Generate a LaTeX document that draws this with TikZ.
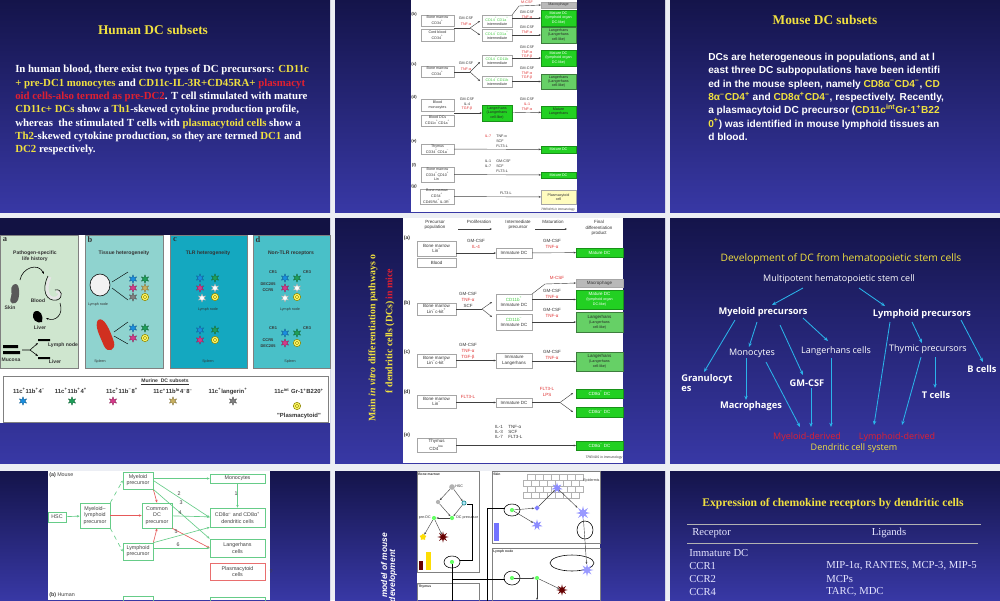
\documentclass[tikz,border=0pt]{standalone}
\usepackage{fontspec}
\setmainfont{Liberation Serif}
\newfontfamily\arial{Liberation Sans}
\newfontfamily\osans{Open Sans}
\usetikzlibrary{arrows.meta,shapes.geometric,shapes.misc}
\definecolor{navtop}{HTML}{14144A}
\definecolor{navbot}{HTML}{3838A5}
\definecolor{ylw}{HTML}{F0E040}
\definecolor{rd}{HTML}{E02030}
\definecolor{gut}{HTML}{ECEEF4}
\definecolor{cyanar}{HTML}{2AB4EA}
\definecolor{gdark}{HTML}{22D022}
\definecolor{glight}{HTML}{66D066}
\definecolor{lgreen}{HTML}{44CC44}
\definecolor{tgreen}{HTML}{66CC88}
\definecolor{figred}{HTML}{E03030}
\definecolor{pa}{HTML}{CFE6CF}
\definecolor{pb}{HTML}{8FD3CF}
\definecolor{pc}{HTML}{14A8C0}
\definecolor{pd}{HTML}{49C0C8}
\definecolor{dcb}{HTML}{1A8FE0}
\definecolor{dcg}{HTML}{1F9F5A}
\definecolor{dcm}{HTML}{D63A8A}
\definecolor{dct}{HTML}{C8B060}
\definecolor{spl}{HTML}{D03020}
\newcommand\Y[1]{\textcolor{ylw}{#1}}
\newcommand\R[1]{\textcolor{rd}{#1}}
\newcommand\up[1]{\textsuperscript{#1}}
\newcommand\pl{\textsuperscript{+}}
\newcommand\mi{\textsuperscript{–}}
\newcommand\sml{\fontsize{2.6}{3}\selectfont}
\newcommand\bx[7][]{\node[#1, minimum width={(#5-#3)*0.025cm}, minimum height={(#6-#4)*0.025cm}] (#2) at ({(#3+#5)/2},{(#4+#6)/2}) {#7};}
\newcommand\dcell[3]{\node[star,star points=6,star point ratio=2.2,fill=#3,draw=#3!60!black,line width=0.2pt,inner sep=0pt,minimum size=6pt] at (#1,#2){};}
\newcommand\ring[2]{\draw[fill=yellow!60,draw=olive,line width=0.4pt] (#1,#2) circle[radius=2.6pt]; \draw[olive,line width=0.3pt] (#1,#2) circle[radius=1.3pt];}
\tikzset{
  tile/.style={top color=navtop,bottom color=navbot},
  fb/.style={draw=gray!70,line width=0.3pt,inner sep=0pt,outer sep=0pt,align=center,font=\arial\fontsize{3.2}{3.7}\selectfont,text=black!80},
  fbs/.style={fb,font=\arial\fontsize{2.6}{3.0}\selectfont},
  gb/.style={fb,fill=gdark,draw=gdark!70!black,text=white},
  gbs/.style={fbs,fill=gdark,draw=gdark!70!black,text=white},
  lb/.style={fb,fill=glight,draw=glight!60!black,text=black!85},
  lbs/.style={fbs,fill=glight,draw=glight!60!black,text=black!85},
  lab/.style={font=\arial\fontsize{3.2}{3.7}\selectfont,inner sep=0pt,text=black!80},
  labs/.style={font=\arial\fontsize{2.6}{3.0}\selectfont,inner sep=0pt,text=black!80},
  ar/.style={-{Stealth[length=1.6pt,width=1.3pt]},line width=0.3pt,draw=gray!50!black},
  ln/.style={line width=0.3pt,draw=gray!50!black},
  car/.style={-{Stealth[length=3pt,width=2.4pt]},line width=0.6pt,draw=cyanar},
  gbox/.style={draw=tgreen,line width=0.45pt,inner sep=0pt,align=center,font=\arial\fontsize{3.8}{4.4}\selectfont,text=black!75},
  gar/.style={-{Stealth[length=2pt,width=1.7pt]},line width=0.45pt,draw=tgreen},
  rar/.style={-{Stealth[length=2pt,width=1.7pt]},line width=0.45pt,draw=figred!80},
  num/.style={font=\arial\fontsize{3.8}{4.4}\selectfont,inner sep=0pt,text=black!75},
  ptxt/.style={font=\arial\bfseries\fontsize{3.6}{4.2}\selectfont,inner sep=0pt,text=black!80,align=center},
  mtxt/.style={ptxt,font=\arial\bfseries\fontsize{4.2}{4.8}\selectfont},
}
\begin{document}
\begin{tikzpicture}[x=0.025cm,y=-0.025cm]
\useasboundingbox (0,0) rectangle (1000,600);
\fill[gut] (0,0) rectangle (1000,600);
% ---------------- tiles backgrounds
\shade[tile] (0,0) rectangle (330,212);
\shade[tile] (335,0) rectangle (665,212);
\shade[tile] (670,0) rectangle (1000,212);
\shade[tile] (0,218) rectangle (330,463);
\shade[tile] (335,218) rectangle (665,463);
\shade[tile] (670,218) rectangle (1000,463);
\shade[tile] (0,471) rectangle (330,600);
\shade[tile] (335,471) rectangle (665,600);
\shade[tile] (670,471) rectangle (1000,600);

% ---------------- Tile 1
\node[text=ylw,font=\bfseries\fontsize{9.5}{11}\selectfont] (t1) at (153,30) {Human DC subsets};
\node[anchor=north west,align=left,text=white,inner sep=0pt,font=\bfseries\fontsize{7.7}{9.45}\selectfont] (b1) at (15,65) {In human blood, there exist two types of DC precursors: \Y{CD11c}\\ \Y{+ pre-DC1 monocytes} and \Y{CD11c-IL-3R+CD45RA+} \R{plasmacyt}\\ \R{oid cells-also termed as pre-DC2}. T cell stimulated with mature\\ \Y{CD11c+ DCs} show a \Y{Th1}-skewed cytokine production profile,\\ whereas\ \ the stimulated T cells with \Y{plasmacytoid cells} show a\\ \Y{Th2}-skewed cytokine production, so they are termed \Y{DC1} and\\ \Y{DC2} respectively.};

% ---------------- Tile 3
\node[text=ylw,font=\bfseries\fontsize{9.5}{11}\selectfont] (t3) at (825,20) {Mouse DC subsets};
\node[anchor=north west,align=left,text=white,inner sep=0pt,font=\arial\bfseries\fontsize{7.2}{9.45}\selectfont] (b3) at (708,53) {DCs are heterogeneous in populations, and at l\\ east three DC subpopulations have been identifi\\ ed in the mouse spleen, namely \Y{CD8α\mi CD4\mi}, \Y{CD}\\ \Y{8α\mi CD4\pl} and \Y{CD8α\pl CD4\mi}, respectively. Recently,\\ a plasmacytoid DC precursor (\Y{CD11c\up{int}Gr-1\pl B22}\\ \Y{0\pl}) was identified in mouse lymphoid tissues an\\ d blood.};

% ---------------- Tile 2 figure
\fill[white] (411,0) rectangle (577,212);
\node[labs,font=\arial\bfseries\fontsize{3}{3.4}\selectfont] at (414,14) {(b)};
\node[labs,font=\arial\bfseries\fontsize{3}{3.4}\selectfont] at (414,64) {(c)};
\node[labs,font=\arial\bfseries\fontsize{3}{3.4}\selectfont] at (414,97) {(d)};
\node[labs,font=\arial\bfseries\fontsize{3}{3.4}\selectfont] at (414,141) {(e)};
\node[labs,font=\arial\bfseries\fontsize{3}{3.4}\selectfont] at (414,165) {(f)};
\node[labs,font=\arial\bfseries\fontsize{3}{3.4}\selectfont] at (414,186) {(g)};
\bx[fbs,fill=gray!55]{m1}{541}{2}{576}{8}{Macrophage}
\bx[fbs]{p1}{421}{15}{454}{26}{Bone marrow\\CD34\pl}
\bx[fbs]{p2}{421}{29}{454}{41}{Cord blood\\CD34\pl}
\bx[fbs]{i1}{482}{15}{512}{27}{\textcolor{lgreen}{CD14\pl CD1a\pl}\\intermediate}
\bx[fbs]{i2}{482}{29}{512}{41}{\textcolor{lgreen}{CD14\mi CD1a\pl}\\intermediate}
\bx[gbs]{f1}{541}{10}{576}{26}{Mature DC\\(lymphoid organ\\DC-like)}
\bx[lbs]{f2}{541}{27}{576}{43}{Langerhans\\(Langerhans\\cell-like)}
\coordinate (k1) at (470,28);
\draw[ln] (p1.east |- k1) -- (k1); \draw[ar] (k1) -- (480,21); \draw[ar] (k1) -- (480,35);
\node[labs] at (466,18) {GM-CSF}; \node[labs,text=figred] at (466,24) {TNF-α};
\draw[ar] (i1.north east) -- (519,6) -- (m1.west); \node[labs,text=figred] at (527,2) {M-CSF};
\node[labs] at (527,12) {GM-CSF}; \node[labs,text=figred] at (527,17) {TNF-α};
\draw[ar] (i1.east |- f1.west) -- (f1.west);
\node[labs] at (527,27) {GM-CSF}; \node[labs,text=figred] at (527,32) {TNF-α};
\draw[ar] (i2.east |- f2.west) -- (f2.west);
% (c)
\bx[fbs]{p3}{421}{66}{454}{77}{Bone marrow\\CD34\pl}
\bx[fbs]{i3}{482}{55}{512}{66}{\textcolor{lgreen}{CD14\pl CD11b}\\intermediate}
\bx[fbs]{i4}{482}{76}{512}{87}{\textcolor{lgreen}{CD14\mi CD11b}\\intermediate}
\bx[gbs]{f3}{541}{50}{576}{66}{Mature DC\\(lymphoid organ\\DC-like)}
\bx[lbs]{f4}{541}{74}{576}{89}{Langerhans\\(Langerhans\\cell-like)}
\coordinate (k2) at (470,72);
\draw[ln] (p3.east |- k2) -- (k2); \draw[ar] (k2) -- (480,62); \draw[ar] (k2) -- (480,81);
\node[labs] at (466,63) {GM-CSF}; \node[labs,text=figred] at (466,69) {TNF-α};
\node[labs] at (527,47) {GM-CSF}; \node[labs,text=figred] at (527,52) {TNF-α}; \node[labs,text=figred] at (527,57) {TGF-β};
\draw[ar] (i3.east |- f3.west) -- (f3.west);
\node[labs] at (527,68) {GM-CSF}; \node[labs,text=figred] at (527,73) {TNF-α}; \node[labs,text=figred] at (527,78) {TGF-β};
\draw[ar] (i4.east |- f4.west) -- (f4.west);
% (d)
\bx[fbs]{p4}{421}{99}{454}{111}{Blood\\monocytes}
\bx[fbs]{p5}{421}{115}{454}{126}{Blood DCs\\CD11c\pl CD1a\pl}
\bx[gbs,text=black!85]{i5}{482}{105}{512}{121}{Langerhans\\(Langerhans\\cell-like)}
\bx[gbs,text=black!85]{f5}{541}{106}{576}{118}{Mature\\Langerhans}
\draw[ar] (p4.south east |- i5.west) -- (i5.west);
\node[labs] at (467,99) {GM-CSF}; \node[labs] at (467,104) {IL-4}; \node[labs,text=figred] at (467,109) {TGF-β};
\draw[ar] (i5) -- (f5);
\node[labs] at (527,99) {GM-CSF}; \node[labs,text=figred] at (527,104) {IL-1}; \node[labs,text=figred] at (527,109) {TNF-α};
% (e)
\bx[fbs]{p6}{421}{144}{454}{154}{Thymus\\CD34\pl CD1a\mi}
\bx[gbs]{f6}{541}{146}{576}{153}{Mature DC}
\draw[ar] (p6) -- (f6);
\node[labs,text=figred] at (488,136) {IL-7}; \node[labs,anchor=west] at (496,136) {TNF-α};
\node[labs,anchor=west] at (496,141) {SCF}; \node[labs,anchor=west] at (496,146) {FLT3-L};
% (f)
\bx[fbs]{p7}{421}{167}{454}{182}{Bone marrow\\CD34\pl CD10\pl\\Lin\mi}
\bx[gbs]{f7}{541}{172}{576}{178}{Mature DC}
\draw[ar] (p7) -- (f7);
\node[labs] at (488,161) {IL-1}; \node[labs,anchor=west] at (496,161) {GM-CSF};
\node[labs] at (488,166) {IL-7}; \node[labs,anchor=west] at (496,166) {SCF}; \node[labs,anchor=west] at (496,171) {FLT3-L};
% (g)
\bx[fbs]{p8}{420}{189}{454}{204}{Bone marrow\\CD34\pl\\CD45RA\pl IL-3R\mi}
\bx[fbs,fill=yellow!25]{f8}{541}{190}{576}{204}{Plasmacytoid\\cell}
\draw[ar] (p8) -- (f8);
\node[labs] at (506,193) {FLT3-L};
\node[labs,font=\arial\itshape\fontsize{2.2}{2.6}\selectfont] at (558,210) {TRENDS in Immunology};

% ---------------- Tile 4
\fill[navtop!90!black] (0,218) rectangle (330,235);
\fill[white] (0,235) rectangle (330,423);
\fill[pa] (0,235) rectangle (78,368);
\fill[pb] (85,235) rectangle (163,368);
\fill[pc] (170,235) rectangle (247,368);
\fill[pd] (253,235) rectangle (330,368);
\draw[gray,line width=0.4pt] (0,235) rectangle (78,368) (85,235) rectangle (163,368) (170,235) rectangle (247,368) (253,235) rectangle (330,368);
\node[ptxt,font=\bfseries\fontsize{6}{7}\selectfont] at (5,240) {a};
\node[ptxt,font=\bfseries\fontsize{6}{7}\selectfont] at (90,240) {b};
\node[ptxt,font=\bfseries\fontsize{6}{7}\selectfont] at (175,240) {c};
\node[ptxt,font=\bfseries\fontsize{6}{7}\selectfont] at (258,240) {d};
\node[ptxt] at (35,256) {Pathogen-specific\\life history};
\node[ptxt] at (124,253) {Tissue heterogeneity};
\node[ptxt] at (208,253) {TLR heterogeneity};
\node[ptxt] at (291,253) {Non-TLR receptors};
% panel a drawings
\fill[gray!70!black] (13,285) .. controls (20,280) and (20,295) .. (18,300) .. controls (15,306) and (8,304) .. (11,297) .. controls (13,292) and (9,289) .. (13,285);
\node[ptxt] at (10,308) {Skin};
\draw[line width=2pt,gray!20] (50,277) .. controls (44,290) and (48,300) .. (56,298) .. controls (62,296) and (60,290) .. (56,292);
\draw[line width=0.4pt] (48,276) .. controls (41,290) and (46,302) .. (57,300) .. controls (64,298) and (62,288) .. (55,290);
\node[ptxt] at (38,301) {Blood};
\draw[-{Stealth[length=2pt]},line width=0.4pt] (20,280) .. controls (22,268) and (38,262) .. (44,274);
\draw[-{Stealth[length=2pt]},line width=0.4pt] (60,303) .. controls (64,315) and (55,322) .. (46,318);
\fill[black] (34,312) .. controls (40,308) and (44,316) .. (42,322) .. controls (38,324) and (30,320) .. (34,312);
\node[ptxt] at (40,328) {Liver};
\fill[black] (3,345) rectangle (18,348) (3,351) rectangle (20,354);
\node[ptxt] at (11,360) {Mucosa};
\draw[-{Stealth[length=2pt]},line width=0.4pt] (22,350) -- (30,350) -- (38,343);
\draw[-{Stealth[length=2pt]},line width=0.4pt] (30,350) -- (38,356);
\fill[black] (38,339) rectangle (50,341) (38,357) rectangle (50,359);
\node[ptxt] at (63,345) {Lymph node};
\node[ptxt] at (55,362) {Liver};
% panel b
\draw[fill=gray!10,line width=0.4pt] (100,285) ellipse[x radius=10,y radius=11];
\node[ptxt,font=\arial\fontsize{2.6}{3}\selectfont] at (98,305) {Lymph node};
\draw[line width=0.3pt] (112,282) -- (128,272) (112,288) -- (128,300);
\dcell{133}{279}{dcb}\dcell{145}{279}{dcg}
\dcell{133}{288}{dcm}\dcell{145}{288}{dct}
\dcell{133}{297}{gray}\ring{145}{297}
\fill[spl] (98,320) .. controls (104,316) and (110,330) .. (114,342) .. controls (116,350) and (108,354) .. (104,346) .. controls (100,336) and (94,326) .. (98,320);
\node[ptxt,font=\arial\fontsize{2.6}{3}\selectfont] at (100,362) {Spleen};
\draw[line width=0.3pt] (114,332) -- (128,322) (114,336) -- (128,344);
\dcell{133}{328}{dcb}\dcell{145}{328}{dcg}
\dcell{133}{338}{dcm}\ring{145}{338}
% panel c
\dcell{200}{278}{dcb}\dcell{215}{278}{dcg}
\dcell{200}{288}{dcm}\dcell{215}{288}{white}
\dcell{202}{298}{white}\ring{215}{297}
\node[ptxt,font=\arial\fontsize{2.6}{3}\selectfont] at (208,310) {Lymph node};
\dcell{200}{330}{dcb}\dcell{215}{330}{dcg}
\dcell{200}{340}{dcm}\ring{215}{340}
\node[ptxt,font=\arial\fontsize{2.6}{3}\selectfont] at (208,362) {Spleen};
% panel d
\node[ptxt,font=\arial\bfseries\fontsize{2.8}{3.2}\selectfont] at (273,272) {CR1};
\node[ptxt,font=\arial\bfseries\fontsize{2.8}{3.2}\selectfont] at (307,272) {CR3};
\node[ptxt,font=\arial\bfseries\fontsize{2.8}{3.2}\selectfont] at (268,284) {DEC205};
\node[ptxt,font=\arial\bfseries\fontsize{2.8}{3.2}\selectfont] at (268,290) {CCR5};
\dcell{285}{278}{dcb}\dcell{297}{278}{dcg}
\dcell{285}{288}{dcm}\dcell{297}{288}{white}
\dcell{285}{298}{white}\ring{297}{297}
\node[ptxt,font=\arial\fontsize{2.6}{3}\selectfont] at (290,310) {Lymph node};
\node[ptxt,font=\arial\bfseries\fontsize{2.8}{3.2}\selectfont] at (273,328) {CR1};
\node[ptxt,font=\arial\bfseries\fontsize{2.8}{3.2}\selectfont] at (307,328) {CR3};
\node[ptxt,font=\arial\bfseries\fontsize{2.8}{3.2}\selectfont] at (268,340) {CCR5};
\node[ptxt,font=\arial\bfseries\fontsize{2.8}{3.2}\selectfont] at (268,346) {DEC205};
\dcell{285}{333}{dcb}\dcell{297}{333}{dcg}
\dcell{285}{343}{dcm}\ring{297}{343}
\node[ptxt,font=\arial\fontsize{2.6}{3}\selectfont] at (290,362) {Spleen};
% murine subsets
\draw[gray,line width=0.5pt] (3,376) rectangle (328,422);
\node[ptxt] at (165,382) {\underline{Murine\ \ DC subsets}};
\node[mtxt] at (29,391) {11c\pl 11b\pl 4\mi};
\node[mtxt] at (71,391) {11c\pl 11b\pl 4\pl};
\node[mtxt] at (122,391) {11c\pl 11b\mi 8\pl};
\node[mtxt] at (173,391) {11c\pl 11b\up{lo}4\mi 8\mi};
\node[mtxt] at (228,391) {11c\pl langerin\pl};
\node[mtxt] at (299,391) {11c\up{int} Gr-1\pl B220\pl};
\dcell{23}{401}{dcb}\dcell{72}{401}{dcg}\dcell{113}{401}{dcm}
\dcell{173}{401}{dct}\dcell{233}{401}{gray}\ring{297}{406}
\node[mtxt] at (299,416) {"Plasmacytoid"};

% ---------------- Tile 5
\node[rotate=90,text=ylw,font=\bfseries\fontsize{7}{8}\selectfont] (t5a) at (373,338) {Main \textit{in vitro} differentiation pathways o};
\node[rotate=90,text=ylw,font=\bfseries\fontsize{7}{8}\selectfont] (t5b) at (390,331) {f dendritic cells (DCs) \R{in mice}};
\fill[white] (403,218) rectangle (623,463);
\node[lab,align=center] at (435,225) {Precursor\\population};
\node[lab] at (479,222) {Proliferation};
\node[lab,align=center] at (518,225) {Intermediate\\precursor};
\node[lab] at (553,222) {Maturation};
\node[lab,align=center] at (599,228) {Final\\differentiation\\product};
\coordinate (h1) at (458,229); \coordinate (h2) at (492,229); \coordinate (h3) at (535,229); \coordinate (h4) at (567,229);
\draw[ar] (h1) -- (h2); \draw[ar] (h3) -- (h4);
\foreach \l/\yy in {a/238,b/303,c/352,d/392,e/435} \node[lab,font=\arial\bfseries\fontsize{3.6}{4}\selectfont] at (407,\yy) {(\l)};
% (a)
\bx[fb]{a1}{417}{241}{456}{256}{Bone marrow\\Lin\mi}
\bx[fb]{a2}{417}{258}{456}{267}{Blood}
\bx[fb]{a3}{496}{248}{532}{258}{Immature DC}
\bx[gb]{a4}{576}{248}{623}{257}{Mature DC}
\draw[ar] (a1.east |- a3.west) -- (a3.west); \draw[ar] (a3) -- (a4);
\node[lab] at (476,241) {GM-CSF}; \node[lab,text=figred] at (476,247) {IL-4};
\node[lab] at (552,241) {GM-CSF}; \node[lab,text=figred] at (552,247) {TNF-α};
% (b)
\bx[fb]{b1}{417}{303}{456}{315}{Bone marrow\\Lin\mi c-kit\pl}
\bx[fb]{b2}{496}{294}{532}{310}{\textcolor{lgreen}{CD11b\pl}\\Immature DC}
\bx[fb]{b3}{496}{314}{532}{330}{\textcolor{lgreen}{CD11b\mi}\\Immature DC}
\bx[fb,fill=gray!55]{b4}{576}{279}{623}{287}{Macrophage}
\bx[gb]{b5}{576}{290}{623}{309}{Mature DC\\\sml(lymphoid organ\\\sml DC-like)}
\bx[lb]{b6}{576}{312}{623}{332}{Langerhans\\\sml(Langerhans\\\sml cell-like)}
\coordinate (bk) at (482,309);
\draw[ln] (b1.east |- bk) -- (bk); \draw[ar] (bk) -- (492,302); \draw[ar] (bk) -- (492,317);
\node[lab] at (468,294) {GM-CSF}; \node[lab,text=figred] at (468,300) {TNF-α}; \node[lab] at (468,306) {SCF};
\coordinate (bm) at (545,284);
\draw[ar] (b2.north east) -- (bm) -- (b4.west); \node[lab,text=figred] at (557,278) {M-CSF};
\draw[ar] (b2.east |- b5.west) -- (b5.west);
\node[lab] at (552,291) {GM-CSF}; \node[lab,text=figred] at (552,297) {TNF-α};
\draw[ar] (b3.east |- b6.west) -- (b6.west);
\node[lab] at (552,310) {GM-CSF}; \node[lab,text=figred] at (552,316) {TNF-α};
% (c)
\bx[fb]{c1}{417}{354}{456}{367}{Bone marrow\\Lin\mi c-kit\pl}
\bx[fb]{c2}{496}{353}{532}{368}{Immature\\Langerhans}
\bx[lb]{c3}{576}{352}{623}{371}{Langerhans\\\sml(Langerhans\\\sml cell-like)}
\draw[ar] (c1) -- (c2); \draw[ar] (c2.east |- c3.west) -- (c3.west);
\node[lab] at (468,345) {GM-CSF}; \node[lab,text=figred] at (468,351) {TNF-α}; \node[lab,text=figred] at (468,357) {TGF-β};
\node[lab] at (552,352) {GM-CSF}; \node[lab,text=figred] at (552,357.5) {TNF-α};
% (d)
\bx[fb]{d1}{417}{395}{456}{408}{Bone marrow\\Lin\mi}
\bx[fb]{d2}{496}{398}{532}{407}{Immature DC}
\bx[gb]{d3}{576}{389}{623}{398}{CD8α\pl\ DC}
\bx[gb]{d4}{576}{407}{623}{417}{CD8α\mi\ DC}
\draw[ar] (d1.east |- d2.west) -- (d2.west);
\coordinate (dk) at (560,402.5);
\draw[ln] (d2.east) -- (dk); \draw[ar] (dk) -- (573,393); \draw[ar] (dk) -- (573,412);
\node[lab,text=figred] at (468,397) {FLT3-L};
\node[lab,text=figred] at (547,389) {FLT3-L}; \node[lab,text=figred] at (547,395) {LPS};
% (e)
\bx[fb]{e1}{417}{438}{456}{452}{Thymus\\CD4\up{low}}
\bx[gb]{e2}{576}{441}{623}{450}{CD8α\mi\ DC}
\draw[ar] (e1.east |- e2.west) -- (e2.west);
\node[lab] at (499,427) {IL-1}; \node[lab] at (499,432) {IL-3}; \node[lab] at (499,437) {IL-7};
\node[lab,anchor=west] at (508,427) {TNF-α}; \node[lab,anchor=west] at (508,432) {SCF}; \node[lab,anchor=west] at (508,437) {FLT3-L};
\node[lab,font=\arial\itshape\fontsize{2.4}{3}\selectfont] at (604,458) {TRENDS in Immunology};

% ---------------- Tile 6
\begin{scope}[font=\osans\fontsize{6.4}{7.5}\selectfont,text=white,every node/.style={inner sep=0pt}]
\node[text=ylw,font=\osans\fontsize{7.3}{8}\selectfont] (d0) at (841,259) {Development of DC from hematopoietic stem cells};
\node (hsc6) at (839,279) {Multipotent hematopoietic stem cell};
\node[font=\osans\bfseries\fontsize{6.6}{7.5}\selectfont] (myl) at (763,312) {Myeloid precursors};
\node[font=\osans\bfseries\fontsize{6.6}{7.5}\selectfont] (lym) at (922,314) {Lymphoid precursors};
\node (mono) at (752,353) {Monocytes};
\node (lang) at (836,351) {Langerhans cells};
\node (thy) at (928,349) {Thymic precursors};
\node[font=\osans\bfseries\fontsize{6.6}{7.5}\selectfont,anchor=west,align=left] (gran) at (681,383) {Granulocyt\\es};
\node[font=\osans\bfseries\fontsize{6.6}{7.5}\selectfont] (gm) at (807,383) {GM-CSF};
\node[font=\osans\bfseries\fontsize{6.6}{7.5}\selectfont] (bc) at (982,369) {B cells};
\node[font=\osans\bfseries\fontsize{6.6}{7.5}\selectfont] (tc) at (936,395) {T cells};
\node[font=\osans\bfseries\fontsize{6.6}{7.5}\selectfont] (mac) at (751,406) {Macrophages};
\node[text=rd] (md) at (807,437) {Myeloid-derived};
\node[text=rd] (ld) at (897,437) {Lymphoid-derived};
\node[text=ylw] (dcs) at (854,448) {Dendritic cell system};
\end{scope}
\draw[car] (803,288) -- (772,305);
\draw[car] (859,288) -- (885,306);
\draw[car] (735,320) -- (704,372);
\draw[car] (757,322) -- (749,347);
\draw[car] (780,325) -- (803,375);
\draw[car] (803,318) -- (828,341);
\draw[car] (746,358) -- (746,400);
\draw[car] (766,362) -- (800,427);
\draw[car] (811,388) -- (811,427);
\draw[car] (831,358) -- (831,427);
\draw[car] (890,322) -- (874,425);
\draw[car] (912,322) -- (922,343);
\draw[car] (961,320) -- (983,362);
\draw[car] (935,357) -- (935,388);
\draw[car] (921,357) -- (902,425);

% ---------------- Tile 7
\begin{scope}
\clip (0,471) rectangle (330,600);
\fill[white] (48,471) rectangle (270,600);
\node[num,anchor=west] at (49,475) {\textbf{(a)} Mouse};
\bx[gbox]{hsc}{48}{512}{66}{522}{HSC}
\bx[gbox]{mlp}{80}{503}{110}{528}{Myeloid–\\lymphoid\\precursor}
\bx[gbox]{myp}{123}{472}{153}{489}{Myeloid\\precursor}
\bx[gbox]{cdp}{142}{503}{172}{528}{Common\\DC\\precursor}
\bx[gbox]{lyp}{123}{543}{153}{560}{Lymphoid\\precursor}
\bx[gbox]{mon}{210}{474}{265}{483}{Monocytes}
\bx[gbox]{cd8}{210}{508}{265}{527}{CD8α\mi\ and CD8α\pl\\dendritic cells}
\bx[gbox]{lgc}{210}{539}{265}{557}{Langerhans\\cells}
\bx[gbox,draw=figred!70]{plc}{210}{563}{265}{580}{Plasmacytoid\\cells}
\node[num] at (271,572) {?};
\draw[gar] (hsc) -- (mlp);
\draw[gar,dashed] (mlp.north east) -- (myp.west);
\draw[gar,dashed] (mlp.south east) -- (lyp.west);
\draw[rar] (mlp) -- (cdp);
\draw[rar] (myp.south east) -- (cdp.north);
\draw[rar] (lyp.north east) -- (cdp.south);
\draw[gar] (myp.east |- mon.west) -- (mon.west);
\draw[gar] (mon) -- (cd8);
\draw[gar] (myp.east) -- (cd8.west);
\draw[gar] (myp.south east) -- (lgc.north west);
\draw[gar] (cdp) -- (cd8);
\draw[rar] (cdp.south east) -- (lgc.west);
\draw[gar] (lyp.north east) -- (cd8.south west);
\draw[gar] (lyp.east |- lgc.west) -- (lgc.west);
\node[num] at (236,494) {1}; \node[num] at (179,494) {2}; \node[num] at (181,503) {3};
\node[num] at (180,513) {4}; \node[num] at (176,532) {5}; \node[num] at (178,545) {6};
\node[num,anchor=west] at (49,595) {\textbf{(b)} Human};
\bx[gbox]{hmy}{123}{596}{153}{612}{}
\bx[gbox]{hmo}{210}{597}{265}{606}{}
\end{scope}

% ---------------- Tile 8
\begin{scope}
\clip (335,471) rectangle (665,600);
\node[rotate=90,anchor=east,text=white,font=\arial\bfseries\itshape\fontsize{6}{8}\selectfont] (t8a) at (384,528) {model of mouse};
\node[rotate=90,anchor=east,text=white,font=\arial\bfseries\itshape\fontsize{6}{8}\selectfont] (t8b) at (393,545) {development};
\fill[white] (417,471) rectangle (600,600);
\draw[gray,line width=0.4pt] (417,471) rectangle (479,572) (492,471) rectangle (600,543) (492,548) rectangle (600,620) (417,583) rectangle (479,620);
\node[labs,anchor=west,font=\arial\bfseries\fontsize{2.4}{3}\selectfont] at (418,474) {Bone marrow};
\node[labs,anchor=west,font=\arial\bfseries\fontsize{2.4}{3}\selectfont] at (493,474) {Skin};
\node[labs,anchor=west,font=\arial\bfseries\fontsize{2.4}{3}\selectfont] at (493,552) {Lymph node};
\node[labs,anchor=west,font=\arial\bfseries\fontsize{2.4}{3}\selectfont] at (418,587) {Thymus};
\node[circle,fill=gray!60,inner sep=0pt,minimum size=4pt] (hs) at (452,487) {};
\node[labs,anchor=west] at (455,486) {HSC};
\node[circle,fill=gray!60,inner sep=0pt,minimum size=3pt] (mp) at (438,502) {};
\node[circle,fill=cyan!30,draw=teal,inner sep=0pt,minimum size=3pt] (lp) at (464,503) {};
\node[circle,fill=green!60,inner sep=0pt,minimum size=3pt] (dp) at (452,518) {};
\node[circle,fill=green!60,inner sep=0pt,minimum size=3pt] (pd) at (434,518) {};
\node[labs,anchor=west] at (456,518) {DC precursor};
\node[labs,anchor=east] at (431,518) {pre-DC};
\draw[ar] (hs) -- (mp); \draw[ar] (hs) -- (lp); \draw[ar] (mp) -- (dp); \draw[ar] (lp) -- (dp); \draw[ar] (dp) -- (pd);
\node[star,star points=5,fill=yellow!80!orange,inner sep=0pt,minimum size=5pt] (bd) at (423,537) {};
\node[star,star points=8,star point ratio=2.5,fill=red!40!black,inner sep=0pt,minimum size=8pt] (cd) at (443,537) {};
\draw[ar] (pd) -- (bd); \draw[ar] (pd) -- (cd);
\draw[line width=0.4pt] (452,562) ellipse[x radius=8,y radius=6];
\node[circle,fill=green!60,inner sep=0pt,minimum size=3pt] (vs) at (452,562) {};
\fill[red!40!black] (419,561) rectangle (423,570);
\fill[yellow!80!orange] (426,552) rectangle (431,570);
\draw[line width=0.4pt] (vs) -- (452,620);
\draw[line width=0.4pt] (452,579) -- (505,579);
\draw[line width=0.4pt] (487,620) -- (487,508) -- (505,508);
\draw[line width=0.4pt] (467,504) -- (472,504) -- (472,560) -- (460,560);
% skin
\foreach \xx in {527,535,543,551,559,567,575} {\draw[gray!60,line width=0.2pt] (\xx,474) rectangle ++(8,6) (\xx-4,480) rectangle ++(8,6) (\xx,486) rectangle ++(8,6) (\xx-4,492) rectangle ++(8,6);}
\node[labs,anchor=west] at (583,481) {Epidermis};
\draw[line width=0.4pt] (512,510) ellipse[x radius=8,y radius=6];
\node[circle,fill=green!60,inner sep=0pt,minimum size=3pt] (sd) at (512,510) {};
\node[diamond,fill=blue!50,inner sep=0pt,minimum size=4pt] (sp) at (537,508) {};
\node[star,star points=7,star point ratio=2.5,fill=blue!45,inner sep=0pt,minimum size=8pt] (lc) at (557,488) {};
\node[star,star points=8,star point ratio=2.5,fill=blue!40,inner sep=0pt,minimum size=10pt] (mlc) at (583,513) {};
\node[star,star points=7,star point ratio=2.5,fill=blue!45,inner sep=0pt,minimum size=8pt] (ddc) at (537,525) {};
\draw[ar] (sd) -- (sp); \draw[ar] (sp) -- (lc); \draw[ar] (lc) -- (mlc); \draw[ar] (sd) -- (ddc);
\fill[blue!55] (494,523) rectangle (499,541);
\draw[line width=0.4pt] (585,530) ellipse[x radius=8,y radius=9];
% lymph node
\draw[line width=0.4pt] (512,578) ellipse[x radius=8,y radius=7];
\node[circle,fill=green!60,inner sep=0pt,minimum size=3pt] (ln1) at (512,578) {};
\node[circle,fill=green!60,inner sep=0pt,minimum size=3pt] (ln2) at (537,578) {};
\node[star,star points=8,star point ratio=2.5,fill=red!40!black,inner sep=0pt,minimum size=8pt] (ln3) at (562,590) {};
\draw[line width=0.4pt] (572,563) ellipse[x radius=22,y radius=8];
\node[star,star points=8,star point ratio=2.5,fill=blue!40,inner sep=0pt,minimum size=9pt] (ln4) at (587,570) {};
\draw[ar] (ln1) -- (ln2); \draw[ar] (ln2) -- (ln3); \draw[ar] (ln2) -- (537,600);
\draw[ar] (mlc) -- (ln4);
\end{scope}

% ---------------- Tile 9
\node[text=ylw,font=\bfseries\fontsize{8.3}{9}\selectfont] (t9) at (833,504) {Expression of chemokine receptors by dendritic cells};
\draw[gray!60,line width=0.5pt] (687,524) -- (981,524);
\draw[gray!60,line width=0.5pt] (687,543) -- (978,543);
\begin{scope}[every node/.style={text=white!90!blue,font=\fontsize{7.6}{8}\selectfont,inner sep=0pt}]
\node[anchor=west] (rc) at (692,533) {Receptor};
\node (lg) at (889,533) {Ligands};
\node[anchor=west] (r0) at (689,553) {Immature DC};
\node[anchor=west] (r1) at (689,566) {CCR1};
\node[anchor=west] (r2) at (689,579) {CCR2};
\node[anchor=west] (r3) at (689,592) {CCR4};
\node[anchor=west] (l1) at (826,566) {MIP-1α, RANTES, MCP-3, MIP-5};
\node[anchor=west] (l2) at (826,579) {MCPs};
\node[anchor=west] (l3) at (826,592) {TARC, MDC};
\end{scope}
\end{tikzpicture}
\end{document}
